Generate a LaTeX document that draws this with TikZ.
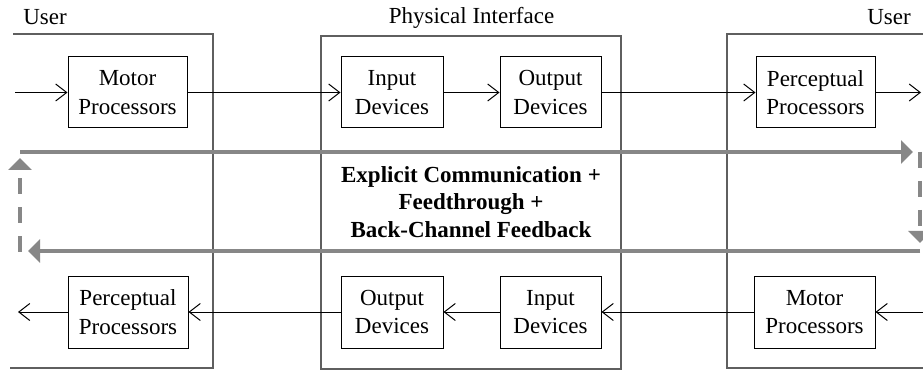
\documentclass[tikz,border=0pt]{standalone}
\usepackage{fontspec}
\setmainfont{Liberation Serif}
\usetikzlibrary{arrows.meta}
\definecolor{loopgray}{RGB}{135,135,135}
\definecolor{framegray}{RGB}{95,95,95}
\begin{document}
\begin{tikzpicture}[x=1pt,y=-1pt,
  box/.style={draw=black, line width=1pt, fill=white, align=center, inner sep=0pt, font=\fontsize{23}{28.5}\selectfont},
  lbl/.style={font=\fontsize{23}{28}\selectfont, inner sep=0pt},
  flow/.style={line width=1pt, -{Straight Barb[length=11pt,width=17pt]}},
  frame/.style={draw=framegray, line width=1.3pt},
  loopar/.style={draw=loopgray, line width=4pt, -{Triangle[length=12pt,width=23pt]}},
  loopdash/.style={loopar, dash pattern=on 16pt off 13pt}]
\useasboundingbox (0,0) rectangle (923,371);
\fill[white] (0,0) rectangle (923,371);
% frames
\draw[frame] (13,34) -- (213,34) -- (213,368) -- (10,368);
\draw[frame] (321,36) rectangle (621,369);
\draw[frame] (923,34) -- (727,34) -- (727,368) -- (923,368);
% labels
\node[lbl] (u1) at (45,17) {User};
\node[lbl] (pi) at (471.5,18) {Physical Interface};
\node[lbl] (u2) at (889,17) {User};
% boxes top
\node[box, minimum width=119pt, minimum height=71pt] (m1) at (127.5,92.5) {Motor\\Processors};
\node[box, minimum width=102pt, minimum height=71pt] (i1) at (392,92.5) {Input\\Devices};
\node[box, minimum width=101pt, minimum height=71pt] (o1) at (550.5,92.5) {Output\\Devices};
\node[box, minimum width=119pt, minimum height=71pt] (p1) at (815.5,92.5) {Perceptual\\Processors};
% boxes bottom
\node[box, minimum width=120pt, minimum height=72pt] (p2) at (128,312) {Perceptual\\Processors};
\node[box, minimum width=102pt, minimum height=72pt] (o2) at (392,312) {Output\\Devices};
\node[box, minimum width=101pt, minimum height=72pt] (i2) at (550.5,312) {Input\\Devices};
\node[box, minimum width=121pt, minimum height=72pt] (m2) at (814.5,312) {Motor\\Processors};
% free ends
\coordinate (inL) at (15,92.5);
\coordinate (outR) at (921,92.5);
\coordinate (inR) at (923,312);
\coordinate (outL) at (18,312);
% flows
\draw[flow] (inL) -- (m1);
\draw[flow] (m1) -- (i1);
\draw[flow] (i1) -- (o1);
\draw[flow] (o1) -- (p1);
\draw[flow] (p1) -- (outR);
\draw[flow] (inR) -- (m2);
\draw[flow] (m2) -- (i2);
\draw[flow] (i2) -- (o2);
\draw[flow] (o2) -- (p2);
\draw[flow] (p2) -- (outL);
% loop
\coordinate (a1) at (20,152);
\coordinate (a2) at (913,152);
\coordinate (b1) at (920,152);
\coordinate (b2) at (920,243);
\coordinate (c1) at (920,251);
\coordinate (c2) at (28,251);
\coordinate (d1) at (20,252);
\coordinate (d2) at (20,158);
\draw[loopar] (a1) -- (a2);
\draw[loopdash] (b1) -- (b2);
\draw[loopar] (c1) -- (c2);
\draw[loopdash] (d1) -- (d2);
% centre text
\node[font=\fontsize{23}{27.5}\selectfont\bfseries, align=center, inner sep=0pt] (ct) at (471,202) {Explicit Communication +\\Feedthrough +\\Back-Channel Feedback};
\end{tikzpicture}
\end{document}
